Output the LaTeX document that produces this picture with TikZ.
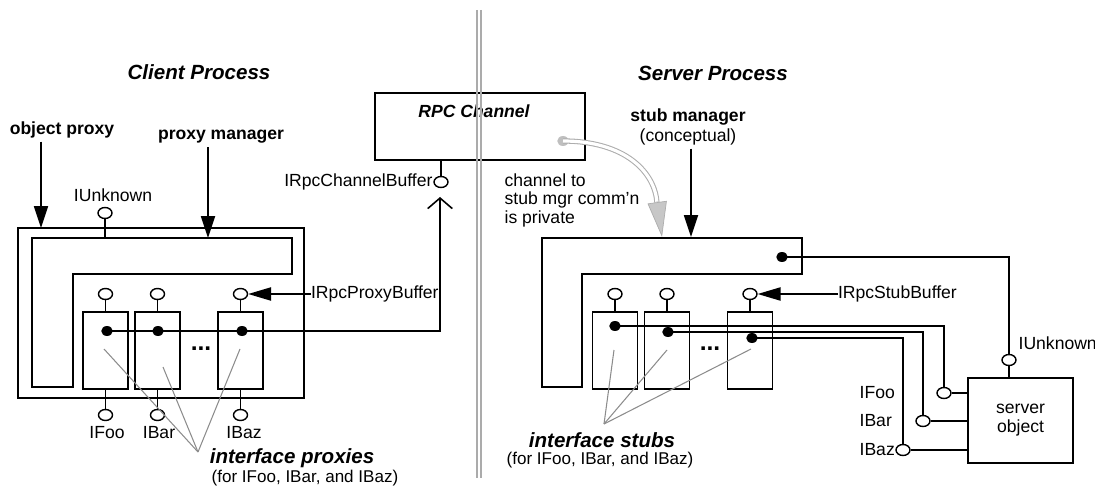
\documentclass[tikz,border=0pt]{standalone}
\usepackage{fontspec}
\setmainfont{Liberation Sans}
\usetikzlibrary{arrows.meta,shapes.geometric}
\begin{document}
\begin{tikzpicture}[x=0.02cm,y=-0.02cm,
  line width=0.9pt,
  lbl/.style={inner sep=0pt, outer sep=1.5pt, font=\fontsize{10}{12}\selectfont},
  bold/.style={inner sep=0pt, outer sep=2pt, font=\fontsize{10}{11.3}\selectfont\bfseries},
  title/.style={inner sep=0pt, font=\fontsize{11.7}{14}\selectfont\bfseries\itshape},
  ellip/.style={inner sep=0pt, font=\fontsize{14}{14}\selectfont\bfseries, anchor=base},
  iface/.style={draw, ellipse, fill=white, inner sep=0pt, minimum width=0.28cm, minimum height=0.22cm, line width=0.8pt},
  jdot/.style={fill, ellipse, inner sep=0pt, minimum width=0.23cm, minimum height=0.2cm},
  ibox/.style={draw, inner sep=0pt, minimum width=0.9cm, minimum height=1.54cm},
  bigarrow/.style={-{Triangle[length=12.5pt,width=8pt]}},
  pointer/.style={draw=black!45, line width=0.6pt},
  divider/.style={draw=black!33, line width=1pt},
]
\useasboundingbox (0,0) rectangle (1095,486);

%% ---------------- client process ----------------
\node[title] (ct) at (199,72) {Client Process};

% object proxy frame and proxy manager L-shape
\draw (18,228) rectangle (304,398);
\draw (32,238) -- (292,238) -- (292,274) -- (73,274) -- (73,387) -- (32,387) -- cycle;
\coordinate (opTop) at (41,228);
\coordinate (pmTop) at (208,238);

\node[bold] (op) at (62,130) {object proxy};
\node[bold] (pm) at (221,137) {proxy manager};
\draw[bigarrow] (op.south -| opTop) -- (opTop);
\draw[bigarrow] (pm.south -| pmTop) -- (pmTop);

% IUnknown on the proxy manager
\node[iface] (cu) at (105,213) {};
\node[lbl] (cul) at (113,195) {IUnknown};
\draw (cu.south) -- (105,238);

% interface proxies
\node[ibox] (p1) at (105.5,350.5) {};
\node[ibox] (p2) at (157.5,350.5) {};
\node[ibox] (p3) at (240.5,350.5) {};
\node[iface] (t1) at (105.5,294) {};
\node[iface] (t2) at (157.5,294) {};
\node[iface] (t3) at (240.5,294) {};
\node[iface] (b1) at (105.5,415) {};
\node[iface] (b2) at (157.5,415) {};
\node[iface] (b3) at (240.5,415) {};
\foreach \i in {1,2,3} {
  \draw (p\i.north) -- (t\i.south);
  \draw (p\i.south) -- (b\i.north);
}
\node[lbl] (lfoo) at (107,433) {IFoo};
\node[lbl] (lbar) at (159,433) {IBar};
\node[lbl] (lbaz) at (244,433) {IBaz};
\node[ellip] (cdots) at (201,350) {...};

\node[jdot] (d1) at (107,331) {};
\node[jdot] (d2) at (158,331) {};
\node[jdot] (d3) at (242,331) {};

% RPC channel
\node[draw, minimum width=4.2cm, minimum height=1.34cm, inner sep=0pt] (rpc) at (480,126.5) {};
\node[inner sep=0pt, font=\fontsize{10}{12}\selectfont\bfseries\itshape] (rpcl) at (474,111) {RPC Channel};
\node[iface] (cb) at (441,182) {};
\draw (cb.north) -- (cb.north |- rpc.south);
\node[lbl, anchor=east, outer sep=0.5pt] (cbl) at (cb.west) {IRpcChannelBuffer};
\coordinate (chanIn) at (440,197);
\draw[-{Straight Barb[length=6pt,width=14pt]}] (d1.center) -| (chanIn);

% IRpcProxyBuffer
\node[lbl, anchor=west, outer sep=0pt] (pb) at (311,294) {IRpcProxyBuffer};
\draw[-{Triangle[length=13pt,width=7.5pt]}] (pb.west) -- (t3.east);

% pointers to the interface proxies
\coordinate (cp) at (198,452);
\draw[pointer] (cp) -- (104,349);
\draw[pointer] (cp) -- (163,367);
\draw[pointer] (cp) -- (240,349);
\node[title, anchor=west] (ipl) at (209,458) {interface proxies};
\node[lbl, anchor=west, font=\fontsize{9.7}{12}\selectfont] (ipf) at (209,478) {(for IFoo, IBar, and IBaz)};

%% ---------------- process boundary ----------------
\draw[divider] (477,10) -- (477,478);
\draw[divider] (481,10) -- (481,478);

%% ---------------- server process ----------------
\node[title] (st) at (713,73) {Server Process};
\node[bold, align=center] (smg) at (688,127) {stub manager\\\mdseries(conceptual)};
\coordinate (smTop) at (691,237);
\draw[bigarrow] (smg.south -| smTop) -- (smTop);

% private channel to stub manager link
\node[jdot, fill=black!25] (gd) at (563,141) {};
\draw[draw=black!32, double=white, double distance=1.8pt, line width=0.6pt]
  (gd.center) .. controls (625,141) and (655,172) .. (657,203);
\coordinate (gTip) at (662,237);
\draw[draw=black!32, line width=0.4pt, -{Triangle[length=20pt,width=11pt,fill=black!22]}] (657,201) -- (gTip);
\node[lbl, anchor=north west, align=left, font=\fontsize{10}{10.5}\selectfont] (priv) at (502,171)
  {channel to\\stub mgr comm’n\\is private};

% stub manager L-shape
\draw (542,238) -- (802,238) -- (802,274) -- (582,274) -- (582,387) -- (542,387) -- cycle;
\node[jdot] (smd) at (782,257) {};

% interface stubs
\node[ibox] (s1) at (615,350.5) {};
\node[ibox] (s2) at (667,350.5) {};
\node[ibox] (s3) at (750,350.5) {};
\node[iface] (st1) at (615,294) {};
\node[iface] (st2) at (667,294) {};
\node[iface] (st3) at (750,294) {};
\foreach \i in {1,2,3} {
  \draw (s\i.north) -- (st\i.south);
}
\node[ellip] (sdots) at (710,350) {...};
\node[jdot] (sd1) at (615,326) {};
\node[jdot] (sd2) at (668,332) {};
\node[jdot] (sd3) at (752,338) {};

% IRpcStubBuffer
\node[lbl, anchor=west, outer sep=0pt] (sb) at (838,294) {IRpcStubBuffer};
\draw[-{Triangle[length=13pt,width=7.5pt]}] (sb.west) -- (st3.east);

% server object and its interfaces
\node[draw, minimum width=2.1cm, minimum height=1.7cm, inner sep=0pt, align=center,
      font=\fontsize{10}{10.8}\selectfont] (srv) at (1020.5,420.5) {server\\object};
\node[iface] (su) at (1009,360) {};
\node[iface] (sf) at (944,393) {};
\node[iface] (sbr) at (923,421) {};
\node[iface] (sz) at (903,450) {};
\draw (smd.center) -| (su.north);
\draw (su.south) -- (su.south |- srv.north);
\draw (sd1.center) -| (sf.north);
\draw (sd2.center) -| (sbr.north);
\draw (sd3.center) -| (sz.north);
\draw (sf.east) -- (sf.east -| srv.west);
\draw (sbr.east) -- (sbr.east -| srv.west);
\draw (sz.east) -- (sz.east -| srv.west);
\node[lbl, anchor=west] (sul) at (1016,343) {IUnknown};
\node[lbl, anchor=west] (sfl) at (857,393) {IFoo};
\node[lbl, anchor=west] (sbl) at (857,421) {IBar};
\node[lbl, anchor=west] (szl) at (857,450) {IBaz};

% pointers to the interface stubs
\coordinate (sp) at (604,424);
\draw[pointer] (sp) -- (614,350);
\draw[pointer] (sp) -- (667,350);
\draw[pointer] (sp) -- (751,349);
\node[title] (isl) at (602,440) {interface stubs};
\node[lbl, font=\fontsize{9.7}{12}\selectfont] (isf) at (600,460) {(for IFoo, IBar, and IBaz)};
\end{tikzpicture}
\end{document}
